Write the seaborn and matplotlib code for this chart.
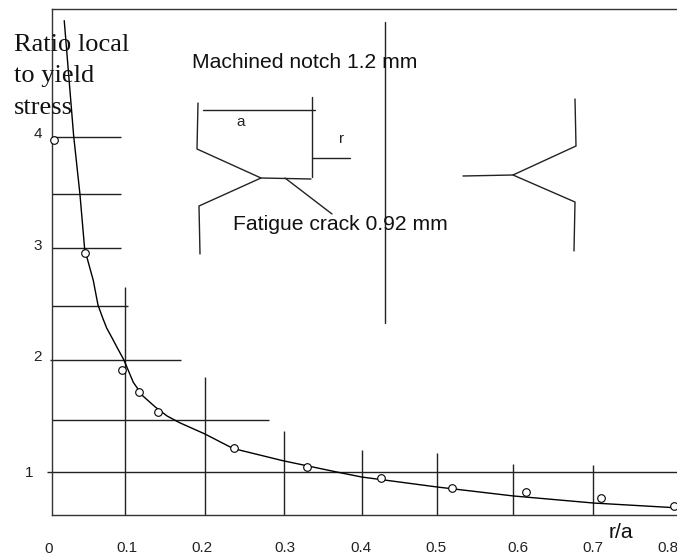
import matplotlib

matplotlib.use("Agg")
import matplotlib.pyplot as plt
import matplotlib.transforms as mtransforms
import pandas as pd
import seaborn as sns

# smooth curve
curve_x = [0.022, 0.034, 0.042, 0.048, 0.059, 0.065, 0.071, 0.076, 0.083, 0.089, 0.098, 0.110, 0.122,
           0.138, 0.153, 0.169, 0.201, 0.237, 0.301, 0.369, 0.401, 0.497, 0.594, 0.696, 0.8025]
curve_y = [5.03, 4.0, 3.48, 2.99, 2.71, 2.49, 2.375, 2.286, 2.196, 2.116, 2.0, 1.80, 1.68,
           1.58, 1.50, 1.44, 1.34, 1.21, 1.10, 1.0, 0.955, 0.866, 0.786, 0.723, 0.68]

# measured points
point_x = [0.009, 0.048, 0.096, 0.117, 0.141, 0.238, 0.331, 0.425, 0.516, 0.610, 0.706, 0.799]
point_y = [3.96, 2.955, 1.91, 1.71, 1.535, 1.21, 1.045, 0.945, 0.855, 0.82, 0.77, 0.695]

# hand drawn grid lines: position, and where each one stops
hline_y = [3.99, 3.48, 3.0, 2.48, 2.0, 1.46, 1.0]
hline_start = [0.0064, 0.0064, 0.0064, 0.0064, 0.004, 0.0064, 0.0]
hline_end = [0.094, 0.094, 0.094, 0.103, 0.171, 0.283, 0.8025]
vline_x = [0.0994, 0.2013, 0.3019, 0.4013, 0.4968, 0.5936, 0.6955]
vline_top = [2.65, 1.85, 1.37, 1.2, 1.17, 1.07, 1.06]

# the labels were placed by hand, they do not sit exactly under the grid lines
xtick_pos = [0.1019, 0.198, 0.3032, 0.4, 0.4955, 0.6, 0.6955, 0.7911]
xtick_labels = ["0.1", "0.2", "0.3", "0.4", "0.5", "0.6", "0.7", "0.8"]
yticks = [1, 2, 3, 4]

# notch sketch, in image pixels
sketch_lines = [
    [(198, 103), (197, 149), (261, 178), (199, 206), (200, 254)],
    [(203, 110), (315, 110)],
    [(312, 97), (312, 177)],
    [(312, 158), (350, 158)],
    [(261, 178), (311, 179)],
    [(285, 178), (332, 214)],
    [(575, 99), (576, 146), (513, 175), (575, 202), (574, 251)],
    [(463, 176), (513, 175)],
    [(385, 22), (385, 323)],
]

sns.set_style("white")
plt.rcParams["font.family"] = ["Liberation Sans", "DejaVu Sans"]

WIDTH, HEIGHT = 677, 558
fig = plt.figure(figsize=(WIDTH / 100, HEIGHT / 100), dpi=100, facecolor="white")
ax = fig.add_axes([52 / WIDTH, 1 - 515 / HEIGHT, 625 / WIDTH, 506 / HEIGHT])
ax.set_facecolor("white")

ax.hlines(hline_y, hline_start, hline_end, color="#222222", lw=1.0, clip_on=False)
ax.vlines(vline_x, 0.616, vline_top, color="#222222", lw=1.0)

curve = pd.DataFrame({"r_a": curve_x, "ratio": curve_y})
points = pd.DataFrame({"r_a": point_x, "ratio": point_y})
sns.lineplot(data=curve, x="r_a", y="ratio", color="black", lw=1.0, sort=False, ax=ax, clip_on=False)
sns.scatterplot(data=points, x="r_a", y="ratio", s=30, facecolor="white", edgecolor="black",
                linewidth=0.8, zorder=5, ax=ax, clip_on=False)

ax.set_xlim(0.0064, 0.8025)
ax.set_ylim(0.616, 5.134)
ax.set_xlabel("")
ax.set_ylabel("")

for side in ["left", "top", "bottom"]:
    ax.spines[side].set_color("#333333")
    ax.spines[side].set_linewidth(1.0)
ax.spines["right"].set_visible(False)

ax.set_xticks(xtick_pos, xtick_labels)
ax.set_yticks(yticks)
ax.tick_params(axis="x", length=0, pad=18.5, labelsize=11, labelcolor="#222222")
ax.tick_params(axis="y", length=0, pad=7.2, labelsize=11, labelcolor="#222222")
ax.yaxis.get_major_ticks()[0].set_pad(13.7)
up = mtransforms.ScaledTranslation(0, 4 / 100, fig.dpi_scale_trans)
for label in ax.get_yticklabels()[1:]:
    label.set_transform(label.get_transform() + up)

# everything placed by eye on the image goes through pixel coordinates
pixels = mtransforms.Affine2D().scale(1 / WIDTH, -1 / HEIGHT).translate(0, 1) + fig.transFigure

for line in sketch_lines:
    xs, ys = zip(*line)
    fig.add_artist(plt.Line2D(xs, ys, transform=pixels, color="#222222", lw=1.0))

for i, txt in enumerate(["Ratio local", "to yield", "stress"]):
    fig.text(14, [45, 76, 108][i], txt, transform=pixels, family="Liberation Serif", fontsize=19,
             va="center", color="#111111")
fig.text(192, 62, "Machined notch 1.2 mm", transform=pixels, fontsize=15.2, va="center", color="#111111")
fig.text(233, 225, "Fatigue crack 0.92 mm", transform=pixels, fontsize=15.2, va="center", color="#111111")
fig.text(241, 122, "a", transform=pixels, fontsize=11, ha="center", va="center", color="#222222")
fig.text(342, 139, "r", transform=pixels, fontsize=11, ha="center", va="center", color="#222222")
fig.text(621, 532, "r/a", transform=pixels, fontsize=15.2, ha="center", va="center", color="#111111")
fig.text(49, 549, "0", transform=pixels, fontsize=11, ha="center", va="center", color="#222222")

fig.savefig("out.png", dpi=100, facecolor="white")
plt.close(fig)
